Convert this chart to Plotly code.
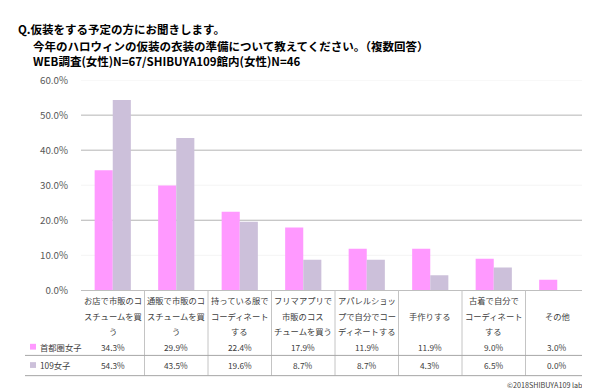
import plotly.graph_objects as go

W, H = 590, 391

categories = [
    "お店で市販のコ\nスチュームを買\nう",
    "通販で市販のコ\nスチュームを買\nう",
    "持っている服で\nコーディネート\nする",
    "フリマアプリで\n市販のコス\nチュームを買う",
    "アパレルショッ\nプで自分でコー\nディネートする",
    "手作りする",
    "古着で自分で\nコーディネート\nする",
    "その他",
]
series_names = ["首都圏女子", "109女子"]
shutoken = [34.3, 29.9, 22.4, 17.9, 11.9, 11.9, 9.0, 3.0]
girls109 = [54.3, 43.5, 19.6, 8.7, 8.7, 4.3, 6.5, 0.0]
colors = ["#FF99FF", "#CCC0DA"]
grid_levels = [20, 40, 50]
faint_levels = [10, 30, 60]

title_lines = [
    "Q.仮装をする予定の方にお聞きします。",
    "今年のハロウィンの仮装の衣装の準備について教えてください。（複数回答）",
    "WEB調査(女性)N=67/SHIBUYA109館内(女性)N=46",
]
copyright_text = "©2018SHIBUYA109 lab."

FONT = "Noto Sans CJK JP"

def px(x):
    return x / W

def py(y):
    return 1 - y / H

plot_l, plot_r, plot_t, plot_b = 73, 581, 66.5, 284.5
n = len(categories)
col_w = (plot_r - plot_l) / n

fig = go.Figure()
xs = list(range(n))
for name, vals, c in zip(series_names, [shutoken, girls109], colors):
    fig.add_trace(go.Bar(x=xs, y=vals, name=name, marker=dict(color=c, line=dict(width=0)),
                         showlegend=False, hoverinfo="skip"))

shapes = []
annotations = []

# gridlines via y-scale
for g in grid_levels:
    shapes.append(dict(type="line", xref="paper", yref="y", x0=px(plot_l), x1=px(plot_r),
                       y0=g, y1=g, line=dict(color="#B4B4B4", width=1), layer="below"))
for g in faint_levels:
    shapes.append(dict(type="line", xref="paper", yref="y", x0=px(plot_l), x1=px(plot_r),
                       y0=g, y1=g, line=dict(color="#F4F4F4", width=1), layer="below"))

# title
title_pos = [(8, 13), (23, 31), (23, 47)]
for t, (x, y) in zip(title_lines, title_pos):
    annotations.append(dict(text="<b>%s</b>" % t, x=px(x), y=py(y), xref="paper", yref="paper",
                            xanchor="left", yanchor="middle", showarrow=False,
                            font=dict(family=FONT, size=11.5, color="#000000")))

# table
tbl_top, row_sep, tbl_bot = plot_b, 352, 373
label_ys = [295, 311, 327]
row_ys = [343, 362]
for i, cat in enumerate(categories):
    cx = plot_l + col_w * (i + 0.5)
    lines = cat.split("\n")
    ys = label_ys if len(lines) == 3 else [label_ys[1]]
    for ln, yy in zip(lines, ys):
        annotations.append(dict(text=ln, x=px(cx), y=py(yy), xref="paper", yref="paper",
                                xanchor="center", yanchor="middle", showarrow=False,
                                font=dict(family=FONT, size=8.3, color="#404040")))
    for vals, yy in zip([shutoken, girls109], row_ys):
        annotations.append(dict(text="%.1f%%" % vals[i], x=px(cx), y=py(yy), xref="paper", yref="paper",
                                xanchor="center", yanchor="middle", showarrow=False,
                                font=dict(family=FONT, size=8.3, color="#404040")))

# vertical column lines
for i in range(1, n + 1):
    xx = plot_l + col_w * i
    shapes.append(dict(type="line", xref="paper", yref="paper", x0=px(xx), x1=px(xx),
                       y0=py(tbl_top), y1=py(tbl_bot), line=dict(color="#C4C4C4", width=1)))
# horizontal lines
for yy in [row_sep, tbl_bot]:
    shapes.append(dict(type="line", xref="paper", yref="paper", x0=px(17), x1=px(plot_r),
                       y0=py(yy), y1=py(yy), line=dict(color="#A6A6A6", width=1)))

# legend keys in table
for name, c, yy in zip(series_names, colors, row_ys):
    shapes.append(dict(type="rect", xref="paper", yref="paper", x0=px(22), x1=px(28),
                       y0=py(yy + 3), y1=py(yy - 3), line=dict(width=0), fillcolor=c))
    annotations.append(dict(text=name, x=px(30), y=py(yy), xref="paper", yref="paper",
                            xanchor="left", yanchor="middle", showarrow=False,
                            font=dict(family=FONT, size=8.3, color="#404040")))

annotations.append(dict(text=copyright_text, x=px(497), y=py(383), xref="paper", yref="paper",
                        xanchor="left", yanchor="middle", showarrow=False,
                        font=dict(family=FONT, size=7.2, color="#404040")))

fig.update_layout(
    width=W, height=H,
    margin=dict(l=0, r=0, t=0, b=0),
    paper_bgcolor="white", plot_bgcolor="white",
    barmode="group", bargap=0.43, bargroupgap=0,
    xaxis=dict(domain=[px(plot_l), px(plot_r)], range=[-0.5, n - 0.5], showticklabels=False,
               showgrid=False, zeroline=False, showline=True, linecolor="#BFBFBF", linewidth=1,
               fixedrange=True),
    yaxis=dict(domain=[py(plot_b), py(plot_t)], range=[0, 60], dtick=10, tickformat=".1f",
               ticksuffix="%", showgrid=False, zeroline=False, showline=False,
               ticks="outside", ticklen=10, tickcolor="rgba(0,0,0,0)",
               tickfont=dict(family=FONT, size=9.8, color="#595959"), fixedrange=True),
    shapes=shapes, annotations=annotations,
    font=dict(family=FONT),
)

fig.write_html("out.html")
